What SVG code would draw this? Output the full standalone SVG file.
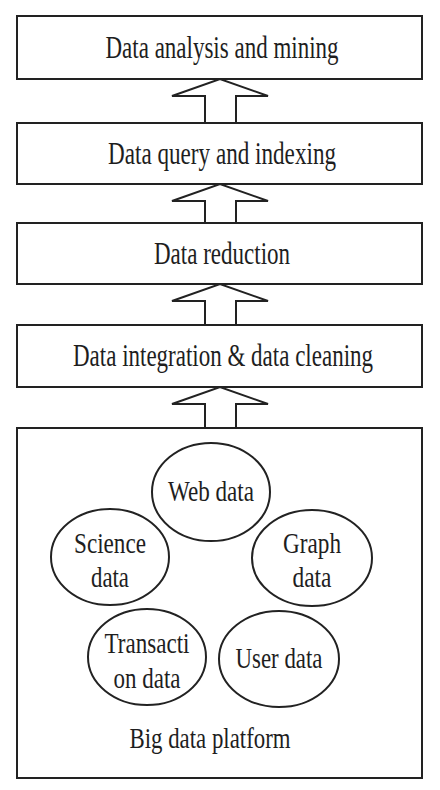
<svg xmlns="http://www.w3.org/2000/svg" width="440" height="790" viewBox="0 0 440 790">
<style>
.box{fill:#fff;stroke:#222;stroke-width:2}
.ell{fill:#fff;stroke:#222;stroke-width:2}
.arr{fill:#fff;stroke:#222;stroke-width:2;stroke-linejoin:miter}
text{font-family:"Liberation Serif","Times New Roman",serif;fill:#1e1e1e;text-anchor:middle}
.bt{font-size:32px}
.et{font-size:30px}
</style>
<rect width="440" height="790" fill="#fff"/>
<g id="connectors">
<path class="arr" d="M205,123 L205,96 L172,96 L220,79 L268,96 L236,96 L236,123"/>
<path class="arr" d="M205,223 L205,201 L172,201 L220,184 L268,201 L236,201 L236,223"/>
<path class="arr" d="M205,325 L205,301 L172,301 L220,284 L268,301 L236,301 L236,325"/>
<path class="arr" d="M205,428 L205,404 L172,404 L220,387 L268,404 L236,404 L236,428"/>
</g>
<g id="box-mining">
<rect class="box" x="17" y="16" width="405" height="63"/>
<text class="bt" transform="translate(222,58) scale(0.72,1)" textLength="323.6" lengthAdjust="spacingAndGlyphs">Data analysis and mining</text>
</g>
<g id="box-query">
<rect class="box" x="17" y="123" width="405" height="61"/>
<text class="bt" transform="translate(222,164) scale(0.72,1)" textLength="316.7" lengthAdjust="spacingAndGlyphs">Data query and indexing</text>
</g>
<g id="box-reduction">
<rect class="box" x="17" y="223" width="405" height="61"/>
<text class="bt" transform="translate(222,264) scale(0.72,1)" textLength="188.9" lengthAdjust="spacingAndGlyphs">Data reduction</text>
</g>
<g id="box-integration">
<rect class="box" x="17" y="325" width="405" height="62"/>
<text class="bt" transform="translate(223,366) scale(0.72,1)" textLength="416.7" lengthAdjust="spacingAndGlyphs">Data integration &amp; data cleaning</text>
</g>
<g id="box-platform">
<rect class="box" x="17" y="428" width="405" height="350"/>
<text class="et" transform="translate(210,748) scale(0.78,1)" textLength="206.4" lengthAdjust="spacingAndGlyphs">Big data platform</text>
</g>
<g id="web-data">
<ellipse class="ell" cx="211" cy="492" rx="59" ry="49"/>
<text class="et" transform="translate(211,501) scale(0.78,1)" textLength="110.3" lengthAdjust="spacingAndGlyphs">Web data</text>
</g>
<g id="science-data">
<ellipse class="ell" cx="110" cy="557" rx="59" ry="48"/>
<text class="et" transform="translate(110,553) scale(0.78,1)" textLength="92.3" lengthAdjust="spacingAndGlyphs">Science</text>
<text class="et" transform="translate(110,587) scale(0.78,1)" textLength="48.7" lengthAdjust="spacingAndGlyphs">data</text>
</g>
<g id="graph-data">
<ellipse class="ell" cx="312" cy="558" rx="60" ry="48"/>
<text class="et" transform="translate(312,553) scale(0.78,1)" textLength="74.4" lengthAdjust="spacingAndGlyphs">Graph</text>
<text class="et" transform="translate(312,587) scale(0.78,1)" textLength="50" lengthAdjust="spacingAndGlyphs">data</text>
</g>
<g id="transaction-data">
<ellipse class="ell" cx="147" cy="657" rx="59" ry="48"/>
<text class="et" transform="translate(147,653) scale(0.78,1)" textLength="109" lengthAdjust="spacingAndGlyphs">Transacti</text>
<text class="et" transform="translate(147,688) scale(0.78,1)" textLength="85.9" lengthAdjust="spacingAndGlyphs">on data</text>
</g>
<g id="user-data">
<ellipse class="ell" cx="279" cy="659" rx="60" ry="48"/>
<text class="et" transform="translate(279,668) scale(0.78,1)" textLength="111.5" lengthAdjust="spacingAndGlyphs">User data</text>
</g>
</svg>
